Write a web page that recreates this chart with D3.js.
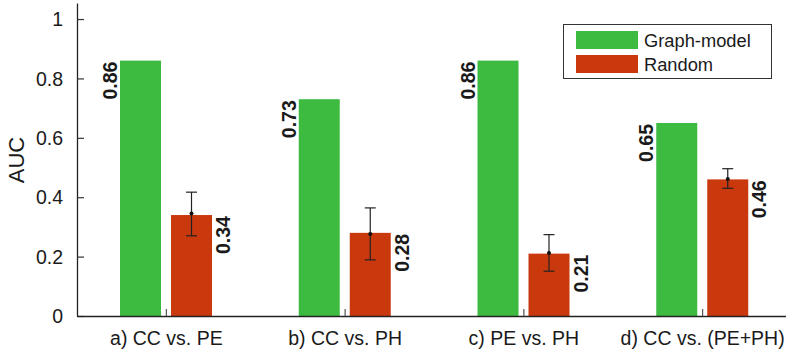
<!DOCTYPE html>
<html>
<head>
<meta charset="utf-8">
<script src="https://cdn.jsdelivr.net/npm/d3@7"></script>
<style>
  body { margin: 0; background: #fff; }
  svg { display: block; font-family: "Liberation Sans", Arial, Helvetica, sans-serif; }
</style>
</head>
<body>
<svg id="chart" width="786" height="353"></svg>
<script>
const categories = ["a) CC vs. PE", "b) CC vs. PH", "c) PE vs. PH", "d) CC vs. (PE+PH)"];
const series = ["Graph-model", "Random"];
const graphModel = [0.86, 0.73, 0.86, 0.65];
const randomVals = [0.34, 0.28, 0.21, 0.46];
const randomMean = [0.345, 0.276, 0.212, 0.461];
const randomLow = [0.27, 0.189, 0.151, 0.430];
const randomHigh = [0.417, 0.364, 0.274, 0.496];
const yTicks = [0, 0.2, 0.4, 0.6, 0.8, 1];
const yTickLabels = ["0", "0.2", "0.4", "0.6", "0.8", "1"];
const colors = ["#3dbb41", "#ca380e"];

const svg = d3.select("#chart");
const plotLeft = 77, plotBottom = 316, plotTop = 3;

const y = d3.scaleLinear().domain([0, 1.054]).range([plotBottom, plotTop]);
const x0 = d3.scaleBand().domain(categories).range([plotLeft, 792]).padding(0);
const x1 = d3.scaleBand().domain(series).range([43, 135]).paddingInner(0.196).paddingOuter(0);

const values = [graphModel, randomVals];

// bars
const g = svg.append("g");
categories.forEach((c, i) => {
  series.forEach((s, j) => {
    const v = values[j][i];
    const bx = x0(c) + x1(s);
    g.append("rect")
      .attr("x", bx)
      .attr("y", y(v))
      .attr("width", x1.bandwidth())
      .attr("height", y(0) - y(v))
      .attr("fill", colors[j]);
    const lx = j === 0 ? bx - 3 : bx + x1.bandwidth() + 18;
    g.append("text")
      .attr("transform", `translate(${lx},${y(v) + 1}) rotate(-90)`)
      .attr("text-anchor", "end")
      .attr("font-weight", "bold")
      .attr("font-size", "19.5px")
      .attr("fill", "#1a1a1a")
      .text(v.toFixed(2));
  });
  const cx = x0(c) + x1("Random") + x1.bandwidth() / 2;
  const eb = g.append("g").attr("stroke", "#222").attr("stroke-width", 1.2);
  eb.append("line").attr("x1", cx).attr("x2", cx).attr("y1", y(randomLow[i])).attr("y2", y(randomHigh[i]));
  eb.append("line").attr("x1", cx - 5.5).attr("x2", cx + 5.5).attr("y1", y(randomLow[i])).attr("y2", y(randomLow[i]));
  eb.append("line").attr("x1", cx - 5.5).attr("x2", cx + 5.5).attr("y1", y(randomHigh[i])).attr("y2", y(randomHigh[i]));
  g.append("circle").attr("cx", cx).attr("cy", y(randomMean[i])).attr("r", 2).attr("fill", "#111");
});

// y axis
const yAxis = d3.axisRight(y).tickValues(yTicks).tickFormat((d, i) => yTickLabels[i]).tickSize(7).tickSizeOuter(0);
const ya = svg.append("g").attr("transform", `translate(${plotLeft},0)`).call(yAxis);
ya.select(".domain").attr("stroke", "#222").attr("stroke-width", 1.3);
ya.selectAll(".tick line").attr("stroke", "#333").attr("stroke-width", 1.2);
ya.selectAll(".tick text")
  .attr("x", -14).attr("text-anchor", "end").attr("dy", "0.34em")
  .attr("font-size", "19.5px").attr("fill", "#1a1a1a");

// x axis
const xAxis = d3.axisBottom(x0).tickSize(-7).tickSizeOuter(0).tickPadding(0);
const xa = svg.append("g").attr("transform", `translate(0,${plotBottom})`).call(xAxis);
xa.select(".domain").attr("stroke", "#222").attr("stroke-width", 1.3);
xa.selectAll(".tick line").attr("stroke", "#555").attr("stroke-width", 1.2);
xa.selectAll(".tick text")
  .attr("y", 29).attr("dy", 0)
  .attr("font-size", "19.5px").attr("fill", "#1a1a1a");

// y label
svg.append("text")
  .attr("transform", `translate(24,160) rotate(-90)`)
  .attr("text-anchor", "middle")
  .attr("font-size", "22px")
  .attr("fill", "#1a1a1a")
  .text("AUC");

// legend
const lg = svg.append("g");
lg.append("rect").attr("x", 563.5).attr("y", 24.5).attr("width", 208).attr("height", 54)
  .attr("fill", "#fff").attr("stroke", "#333").attr("stroke-width", 1);
series.forEach((s, j) => {
  lg.append("rect").attr("x", 576).attr("y", 31 + j * 24).attr("width", 62).attr("height", 18).attr("fill", colors[j]);
  lg.append("text").attr("x", 644).attr("y", 47 + j * 24)
    .attr("font-size", "18.3px").attr("fill", "#1a1a1a").text(s);
});
</script>
</body>
</html>
